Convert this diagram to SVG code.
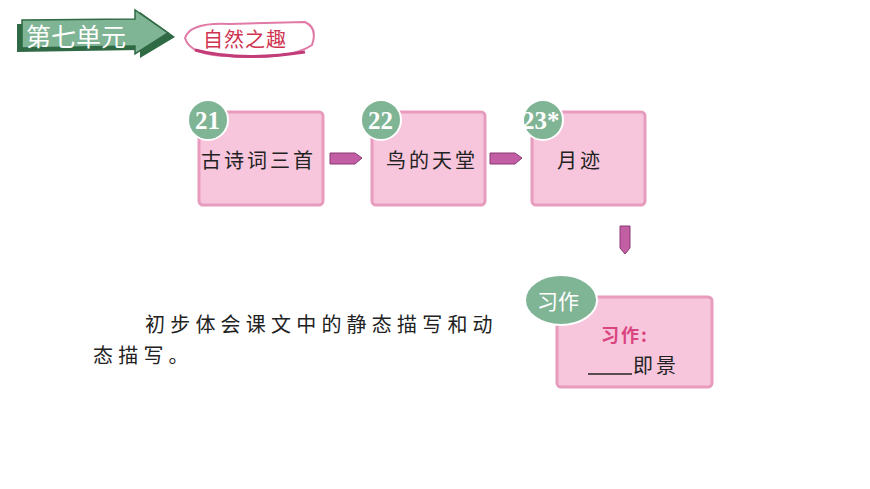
<svg xmlns="http://www.w3.org/2000/svg" width="870" height="489" viewBox="0 0 870 489">
<defs>
<style>
.box{fill:#f8c6dc;stroke:#e79bbd;stroke-width:3}
.circ{fill:#7fb494;stroke:#fff;stroke-width:2}
.num{font-family:"Liberation Serif",serif;font-weight:bold;font-size:25px;fill:#fff}
.t{font-family:"Noto Sans CJK SC",sans-serif;font-size:20px;fill:#222;letter-spacing:3px}
.arr{fill:#c25ea3;stroke:#8a3a72;stroke-width:1}
</style>
</defs>
<g id="header">
<path d="M17 24 L140 22 L140 12 L175 37 L140 58 L140 50 L17 52 Z" fill="#2f6a45"/>
<path d="M22 20 L135 19 L135 10 L168 33 L135 54 L135 46 L22 48 Z" fill="#7fb494" stroke="#2f6a45" stroke-width="1.5"/>
<text x="26" y="46" font-family="Noto Sans CJK SC,sans-serif" font-size="25" fill="#fff">第七单元</text>
<path d="M185 38 Q190 22 230 24 L305 22 Q318 28 312 45 Q290 60 230 56 Q190 56 185 38 Z" fill="#fff" stroke="#e07aa6" stroke-width="2"/>
<path d="M195 50 Q240 62 305 52" fill="none" stroke="#c23c78" stroke-width="3"/>
<text x="203" y="47" font-family="Noto Sans CJK SC,sans-serif" font-size="20" fill="#d0334f" letter-spacing="1">自然之趣</text>
</g>
<g id="n21"><rect class="box" x="199" y="112" width="124" height="93" rx="4"/><circle class="circ" cx="208" cy="120" r="20"/><text class="num" x="195" y="129">21</text><text class="t" x="201" y="168">古诗词三首</text></g>
<g id="n22"><rect class="box" x="372" y="112" width="113" height="93" rx="4"/><circle class="circ" cx="381" cy="120" r="20"/><text class="num" x="368" y="129">22</text><text class="t" x="386" y="168">鸟的天堂</text></g>
<g id="n23"><rect class="box" x="532" y="112" width="113" height="93" rx="4"/><circle class="circ" cx="543" cy="120" r="20"/><text class="num" x="522" y="129">23*</text><text class="t" x="557" y="168">月迹</text></g>
<g id="nx"><rect class="box" x="557" y="297" width="155" height="90" rx="4"/><ellipse class="circ" cx="561" cy="300" rx="36" ry="25"/><text x="537" y="309" font-family="Noto Sans CJK SC,sans-serif" font-size="21" fill="#fff">习作</text>
<text x="601" y="342" font-family="Noto Sans CJK SC,sans-serif" font-size="18" font-weight="bold" fill="#d9457f" letter-spacing="2">习作:</text>
<line x1="588" y1="374" x2="632" y2="374" stroke="#222" stroke-width="1.5"/><text class="t" x="633" y="373" letter-spacing="1">即景</text></g>
<g id="connectors">
<path class="arr" d="M330 153 L355 153 L362 158 L355 164 L330 164 Z"/>
<path class="arr" d="M490 153 L515 153 L522 158 L515 164 L490 164 Z"/>
<path class="arr" d="M620 226 L630 226 L630 248 L625 254 L620 248 Z"/>
</g>
<g id="desc" font-family="Noto Sans CJK SC,sans-serif" font-size="20" fill="#222" letter-spacing="5.2">
<text x="145" y="332">初步体会课文中的静态描写和动</text>
<text x="93" y="363">态描写。</text>
</g>
</svg>
